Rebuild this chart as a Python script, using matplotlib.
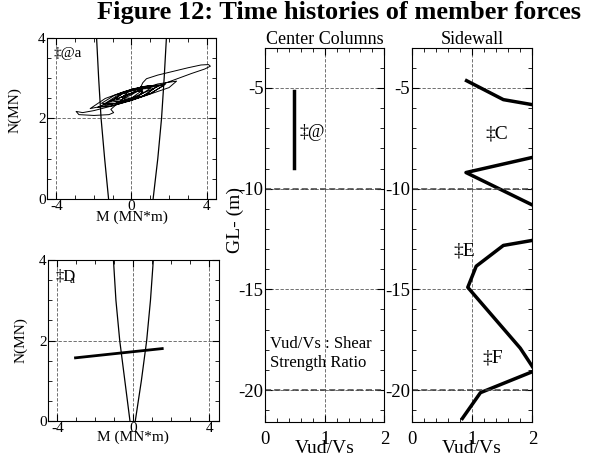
import numpy as np
import matplotlib
matplotlib.use('Agg')
import matplotlib.pyplot as plt
from matplotlib.ticker import MultipleLocator

plt.rcParams['font.family'] = ['Liberation Serif', 'DejaVu Serif']
plt.rcParams['axes.unicode_minus'] = False

# ---- data ----
# (a) center column: interaction curve + M-N history
ia_n = [0, 1, 2, 3, 4]
ia_m_left = [-1.22, -1.43, -1.62, -1.75, -1.86]
ia_m_right = [1.15, 1.40, 1.60, 1.74, 1.86]
hist_a_m = [0.0, 0.35, 0.6, 0.3, -0.2, -0.5,
            -0.2, 0.05, 0.35, 0.6, 0.3, -0.2, -0.6, -1.0,
            -0.5, 0.1, 0.7, 1.2, 0.8, 0.0, -0.9, -1.6,
            -0.9, 0.0, 0.9, 1.7, 1.0, 0.0, -1.0, -2.0, -2.6, -2.95,
            -2.8, -2.0, -1.2, -0.95, -1.1, -0.3, 0.5, 1.4, 2.4,
            2.0, 1.0, 0.0, -1.0, -1.8,
            -1.0, 0.0, 0.5, 0.6, 0.8, 1.4, 2.2, 3.0, 3.7, 4.1, 4.2, 3.9,
            3.2, 2.5, 1.8, 1.0, 0.0, -1.0, -2.2,
            -1.4, -0.4, 0.6, 1.8, 1.0, 0.0, -0.8, -1.5,
            -0.7, 0.3, 1.4, 0.6, -0.3, -1.2,
            -0.5, 0.3, 1.0, 0.3, -0.3, -0.8,
            -0.2, 0.6, 0.0, -0.4, 0.0]
hist_a_n = [2.58, 2.68, 2.66, 2.52, 2.44, 2.51,
            2.65, 2.72, 2.72, 2.66, 2.52, 2.42, 2.41, 2.445,
            2.61, 2.72, 2.78, 2.74, 2.59, 2.45, 2.36, 2.37,
            2.57, 2.72, 2.81, 2.81, 2.61, 2.45, 2.31, 2.19, 2.14, 2.17,
            2.09, 2.07, 2.09, 2.14, 2.22, 2.55, 2.72, 2.85, 2.92,
            2.76, 2.60, 2.44, 2.31, 2.27,
            2.45, 2.62, 2.78, 2.88, 2.98, 3.07, 3.16, 3.25, 3.32, 3.33, 3.29, 3.22,
            3.11, 2.99, 2.87, 2.70, 2.50, 2.35, 2.24,
            2.49, 2.66, 2.78, 2.84, 2.61, 2.45, 2.37, 2.34,
            2.58, 2.74, 2.80, 2.55, 2.43, 2.40,
            2.60, 2.72, 2.74, 2.53, 2.45, 2.46,
            2.60, 2.70, 2.50, 2.50, 2.58]

# (d) sidewall section: interaction curve + M-N history
id_n = [0, 1, 2, 3, 4]
id_m_left = [-0.18, -0.45, -0.72, -0.92, -1.05]
id_m_right = [0.10, 0.42, 0.70, 0.90, 1.05]
hist_d_m = [-3.05, 1.52]
hist_d_n = [1.57, 1.80]

# shear strength ratio vs depth
cc_ratio = [0.48, 0.48]
cc_depth = [-5.15, -8.95]
sw_ratio = [0.91, 1.52, 2.0, np.nan, 2.0, 0.90, 2.0, np.nan,
            2.0, 1.52, 1.07, 0.93, 1.80, 2.0, np.nan, 2.0, 1.14, 0.84]
sw_depth = [-4.64, -5.58, -5.83, np.nan, -8.45, -9.20, -10.81, np.nan,
            -12.57, -12.82, -13.85, -14.90, -17.92, -18.83, np.nan, -19.09, -20.13, -21.41]


def style_mn(ax):
    ax.set_xlim(-4.5, 4.5)
    ax.set_ylim(0, 4)
    ax.set_xticks([-4, 0, 4])
    ax.set_yticks([0, 2, 4])
    ax.xaxis.set_minor_locator(MultipleLocator(1))
    ax.yaxis.set_minor_locator(MultipleLocator(0.5))
    ax.tick_params(which='both', direction='in', top=True, right=True,
                   labelsize=11, pad=1)
    ax.tick_params(which='major', length=5)
    ax.tick_params(which='minor', length=3)
    ax.grid(True, which='major', ls=(0, (4, 2)), lw=0.6, color='0.35')
    ax.set_xlabel('M (MN*m)', fontsize=11)
    ax.set_ylabel('N(MN)', fontsize=11)
    ax.xaxis.label.set_va('center')
    ax.yaxis.label.set_va('center')


def style_depth(ax):
    ax.set_xlim(0, 2)
    ax.set_ylim(-21.6, -3)
    ax.set_xticks([0, 1, 2])
    ax.set_yticks([-5, -10, -15, -20])
    ax.xaxis.set_minor_locator(MultipleLocator(0.2))
    ax.yaxis.set_minor_locator(MultipleLocator(1))
    ax.tick_params(which='both', direction='in', top=True, right=True,
                   labelsize=13.5)
    ax.tick_params(axis='x', which='major', pad=6)
    ax.tick_params(axis='y', which='major', pad=1)
    ax.tick_params(which='major', length=5)
    ax.tick_params(which='minor', length=3)
    ax.grid(True, which='major', ls=(0, (4, 2)), lw=0.6, color='0.35')
    for d in (-10, -20):
        ax.axhline(d, ls=(0, (4, 2)), lw=1.1, color='0.25')
    ax.set_xlabel('Vud/Vs', fontsize=14)
    ax.xaxis.label.set_va('center')
    ax.xaxis.set_label_coords(0.5, -0.069)


fig = plt.figure(figsize=(5.91, 4.61), dpi=100)

ax_a = fig.add_axes([0.0795, 0.5683, 0.286, 0.3503])
ax_a.plot(ia_m_left, ia_n, color='black', lw=0.9)
ax_a.plot(ia_m_right, ia_n, color='black', lw=0.9)
ax_a.plot(hist_a_m, hist_a_n, color='black', lw=0.7)
style_mn(ax_a)
ax_a.xaxis.set_label_coords(0.5, -0.115)
ax_a.yaxis.set_label_coords(-0.19, 0.55)
ax_a.text(0.04, 0.9, '‡@a', transform=ax_a.transAxes, fontsize=11,
          ha='left', va='center')

ax_d = fig.add_axes([0.0812, 0.0868, 0.289, 0.349])
ax_d.plot(id_m_left, id_n, color='black', lw=0.9)
ax_d.plot(id_m_right, id_n, color='black', lw=0.9)
ax_d.plot(hist_d_m, hist_d_n, color='black', lw=2.0)
style_mn(ax_d)
ax_d.xaxis.set_label_coords(0.5, -0.1)
ax_d.yaxis.set_label_coords(-0.16, 0.5)
ax_d.text(0.045, 0.895, '‡D', transform=ax_d.transAxes, fontsize=12,
          ha='left', va='center')
ax_d.text(0.125, 0.875, 'a', transform=ax_d.transAxes, fontsize=8,
          ha='left', va='center')

ax_c = fig.add_axes([0.4484, 0.0840, 0.2019, 0.8126])
ax_c.plot(cc_ratio, cc_depth, color='black', lw=2.5)
style_depth(ax_c)
ax_c.set_ylabel('GL- (m)', fontsize=14)
ax_c.yaxis.label.set_va('center')
ax_c.yaxis.set_label_coords(-0.25, 0.54)
ax_c.set_title('Center Columns', fontsize=13, pad=2)
ax_c.text(0.58, -7.2, '‡@', fontsize=13, ha='left', va='center')
ax_c.text(0.08, -18.2, 'Vud/Vs : Shear\nStrength Ratio', fontsize=12,
          ha='left', va='center', linespacing=1.25)

ax_s = fig.add_axes([0.6966, 0.0840, 0.2041, 0.8126])
ax_s.plot(sw_ratio, sw_depth, color='black', lw=2.5)
style_depth(ax_s)
ax_s.set_title('Sidewall', fontsize=13, pad=2)
ax_s.text(1.22, -7.3, '‡C', fontsize=14, ha='left', va='center')
ax_s.text(0.69, -13.1, '‡E', fontsize=14, ha='left', va='center')
ax_s.text(1.18, -18.4, '‡F', fontsize=14, ha='left', va='center')

fig.text(0.574, 0.972, 'Figure 12: Time histories of member forces',
         fontsize=19, fontweight='bold', ha='center', va='center')

fig.savefig('out.png', dpi=100)
